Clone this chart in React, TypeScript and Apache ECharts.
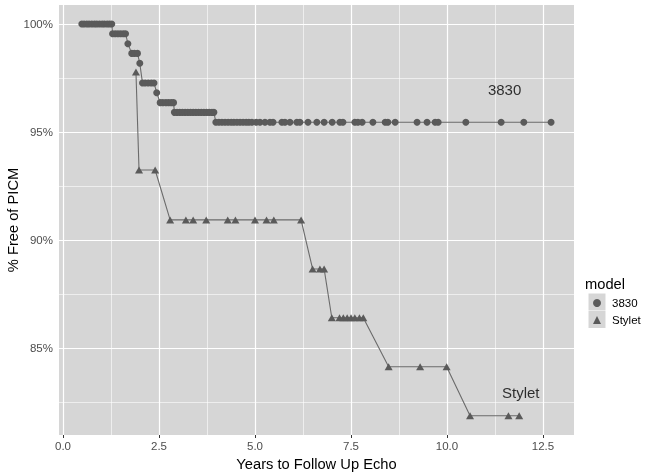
import React, { useEffect, useRef } from "react";
import * as echarts from "echarts";

const FONT = "'Liberation Sans', Arial, Helvetica, sans-serif";

// Tick labels / gridlines
const xTicks = [0, 2.5, 5, 7.5, 10, 12.5];
const xMinor = [1.25, 3.75, 6.25, 8.75, 11.25];
const yTicks = [85, 90, 95, 100];
const yMinor = [82.5, 87.5, 92.5, 97.5];

const seriesNames = ["3830", "Stylet"];

// 3830 model: [years, % free of PICM]
const data3830: [number, number][] = [
  [0.49, 100], [0.55, 100], [0.62, 100], [0.68, 100], [0.75, 100], [0.82, 100],
  [0.88, 100], [0.95, 100], [1.02, 100], [1.08, 100], [1.15, 100], [1.21, 100], [1.27, 100],
  [1.29, 99.55], [1.36, 99.55], [1.43, 99.55], [1.5, 99.55], [1.57, 99.55], [1.63, 99.55],
  [1.69, 99.09],
  [1.79, 98.64], [1.86, 98.64], [1.94, 98.64],
  [2.0, 98.18],
  [2.07, 97.27], [2.14, 97.27], [2.22, 97.27], [2.3, 97.27], [2.37, 97.27],
  [2.44, 96.82],
  [2.53, 96.36], [2.6, 96.36], [2.68, 96.36], [2.75, 96.36], [2.82, 96.36], [2.88, 96.36],
  [2.9, 95.91], [2.97, 95.91], [3.04, 95.91], [3.11, 95.91], [3.18, 95.91], [3.25, 95.91],
  [3.32, 95.91], [3.39, 95.91], [3.46, 95.91], [3.53, 95.91], [3.6, 95.91], [3.67, 95.91],
  [3.74, 95.91], [3.81, 95.91], [3.88, 95.91], [3.93, 95.91],
  [3.98, 95.45], [4.06, 95.45], [4.14, 95.45], [4.22, 95.45], [4.3, 95.45], [4.38, 95.45],
  [4.45, 95.45], [4.53, 95.45], [4.61, 95.45], [4.69, 95.45], [4.77, 95.45], [4.84, 95.45],
  [4.92, 95.45], [5.03, 95.45], [5.13, 95.45], [5.26, 95.45], [5.39, 95.45], [5.47, 95.45],
  [5.7, 95.45], [5.78, 95.45], [5.91, 95.45], [6.09, 95.45], [6.17, 95.45], [6.38, 95.45],
  [6.61, 95.45], [6.8, 95.45], [7.01, 95.45], [7.21, 95.45], [7.29, 95.45], [7.6, 95.45],
  [7.68, 95.45], [7.79, 95.45], [8.07, 95.45], [8.39, 95.45], [8.46, 95.45], [8.65, 95.45],
  [9.22, 95.45], [9.48, 95.45], [9.69, 95.45], [9.77, 95.45], [10.49, 95.45], [11.41, 95.45],
  [12.0, 95.45], [12.71, 95.45],
];

// Stylet model: [years, % free of PICM]
const dataStylet: [number, number][] = [
  [1.9, 97.78],
  [1.98, 93.24], [2.4, 93.24],
  [2.79, 90.93], [3.2, 90.93], [3.39, 90.93], [3.73, 90.93], [4.29, 90.93], [4.49, 90.93],
  [5.0, 90.93], [5.3, 90.93], [5.49, 90.93], [6.2, 90.93],
  [6.5, 88.66], [6.69, 88.66], [6.8, 88.66],
  [7.0, 86.4], [7.2, 86.4], [7.3, 86.4], [7.4, 86.4], [7.5, 86.4], [7.6, 86.4], [7.72, 86.4], [7.82, 86.4],
  [8.48, 84.13], [9.3, 84.13], [9.99, 84.13],
  [10.6, 81.86], [11.6, 81.86], [11.88, 81.86],
];

// In-plot annotations
const annotLabels = ["3830", "Stylet"];
const annotX = [11.5, 11.92];
const annotY = [96.95, 82.96];

export default function App() {
  const ref = useRef<HTMLDivElement>(null);

  useEffect(() => {
    if (!ref.current) return;
    const chart = echarts.init(ref.current, undefined, { renderer: "svg" });

    const gridLines: any[] = [
      ...xTicks.map((v) => ({ xAxis: v, lineStyle: { color: "#ffffff", width: 1.2, type: "solid" } })),
      ...xMinor.map((v) => ({ xAxis: v, lineStyle: { color: "#ffffff", width: 0.6, type: "solid" } })),
      ...yTicks.map((v) => ({ yAxis: v, lineStyle: { color: "#ffffff", width: 1.2, type: "solid" } })),
      ...yMinor.map((v) => ({ yAxis: v, lineStyle: { color: "#ffffff", width: 0.6, type: "solid" } })),
    ];

    const option: any = {
      animation: false,
      textStyle: { fontFamily: FONT },
      grid: {
        left: 59,
        top: 5,
        width: 515,
        height: 430,
        show: true,
        backgroundColor: "#d6d6d6",
        borderWidth: 0,
        containLabel: false,
        outerBoundsMode: "none",
      },
      xAxis: {
        type: "value",
        min: -0.104,
        max: 13.307,
        axisLine: { show: false },
        splitLine: { show: false },
        axisTick: {
          show: true,
          customValues: xTicks,
          length: 3,
          lineStyle: { color: "#333333", width: 1 },
        },
        axisLabel: {
          customValues: xTicks,
          formatter: (v: number) => v.toFixed(1),
          color: "#4d4d4d",
          fontSize: 11.5,
          margin: 5,
          fontFamily: FONT,
        },
        name: "Years to Follow Up Echo",
        nameLocation: "middle",
        nameGap: 21,
        nameMoveOverlap: false,
        nameTextStyle: { fontSize: 14.7, color: "#000000", fontFamily: FONT },
      },
      yAxis: {
        type: "value",
        min: 80.972,
        max: 100.88,
        axisLine: { show: false },
        splitLine: { show: false },
        axisTick: {
          show: true,
          customValues: yTicks,
          length: 3,
          lineStyle: { color: "#333333", width: 1 },
        },
        axisLabel: {
          customValues: yTicks,
          formatter: (v: number) => `${v}%`,
          color: "#4d4d4d",
          fontSize: 11.5,
          margin: 6,
          fontFamily: FONT,
        },
        name: "% Free of PICM",
        nameLocation: "middle",
        nameGap: 39,
        nameMoveOverlap: false,
        nameTextStyle: { fontSize: 14.7, color: "#000000", fontFamily: FONT },
      },
      legend: {
        data: [
          { name: seriesNames[0], icon: "circle" },
          { name: seriesNames[1], icon: "triangle" },
        ],
        orient: "vertical",
        left: 593,
        top: 297,
        itemWidth: 8,
        itemHeight: 8,
        itemGap: 5,
        padding: 0,
        textStyle: { fontSize: 11.5, color: "#000000", fontFamily: FONT, padding: [0, 0, 0, 6] },
      },
      graphic: [
        {
          type: "text",
          left: 585,
          top: 276,
          style: { text: "model", fontSize: 14.7, fill: "#000000", fontFamily: FONT },
        },
        {
          type: "rect",
          shape: { x: 588.5, y: 293.5, width: 17, height: 17 },
          style: { fill: "#d6d6d6" },
          z: -1,
        },
        {
          type: "rect",
          shape: { x: 588.5, y: 311, width: 17, height: 17 },
          style: { fill: "#d6d6d6" },
          z: -1,
        },
      ],
      series: [
        {
          name: "grid",
          type: "line",
          data: [],
          z: 1,
          silent: true,
          markLine: {
            silent: true,
            symbol: "none",
            z: 1,
            label: { show: false },
            emphasis: { disabled: true },
            data: gridLines,
          },
        },
        {
          name: seriesNames[0],
          type: "line",
          data: data3830,
          symbol: "circle",
          symbolSize: 7,
          z: 3,
          itemStyle: { color: "#5a5a5a" },
          lineStyle: { color: "#6b6b6b", width: 1.1 },
        },
        {
          name: seriesNames[1],
          type: "line",
          data: dataStylet,
          symbol: "triangle",
          symbolSize: [8, 7],
          z: 3,
          itemStyle: { color: "#5a5a5a" },
          lineStyle: { color: "#6b6b6b", width: 1.1 },
        },
        {
          name: "annotations",
          type: "scatter",
          data: annotLabels.map((t, i) => ({ value: [annotX[i], annotY[i]], name: t })),
          symbolSize: 1,
          itemStyle: { color: "rgba(0,0,0,0)" },
          z: 4,
          silent: true,
          label: {
            show: true,
            position: "inside",
            formatter: (p: any) => p.name,
            fontSize: 15,
            color: "#000000",
            fontFamily: FONT,
          },
        },
      ],
    };

    chart.setOption(option);
    return () => chart.dispose();
  }, []);

  return (
    <div
      ref={ref}
      style={{ position: "fixed", left: 0, top: 0, width: 660, height: 476 }}
    />
  );
}
